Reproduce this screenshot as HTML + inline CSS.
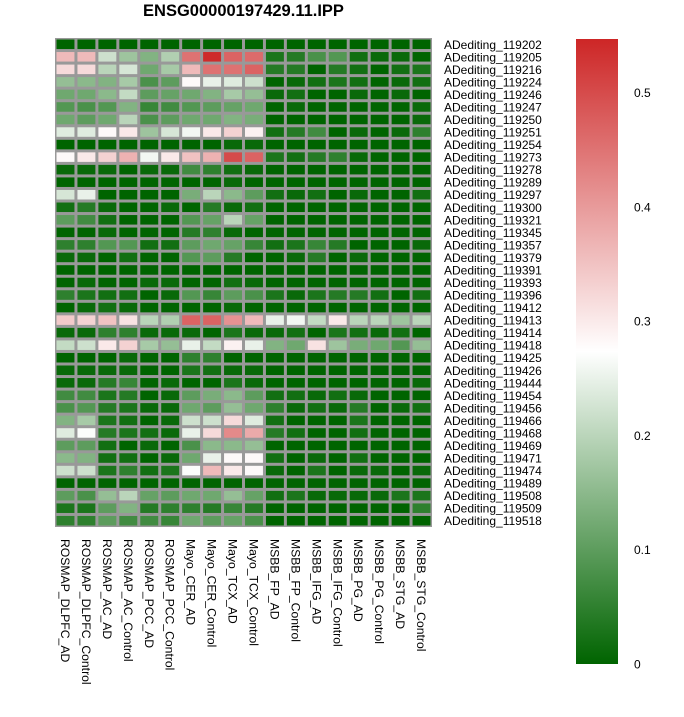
<!DOCTYPE html>
<html><head><meta charset="utf-8"><style>
body{margin:0;background:#fff;}
svg{display:block;font-family:"Liberation Sans",sans-serif;}
</style></head><body>
<svg id="chart" width="684" height="717" viewBox="0 0 684 717">
<defs><linearGradient id="cb" x1="0" y1="1" x2="0" y2="0">
<stop offset="0" stop-color="rgb(0,100,0)"/><stop offset="0.5" stop-color="#fff"/><stop offset="1" stop-color="rgb(205,38,38)"/>
</linearGradient></defs>
<text x="243.5" y="16" text-anchor="middle" font-size="16.5" font-weight="bold">ENSG00000197429.11.IPP</text>
<rect x="55" y="38" width="377" height="489" fill="#999"/>
<g id="cells"></g><g id="rowlabels"></g><g id="collabels"></g>
<rect x="576" y="39" width="42" height="625" fill="url(#cb)"/>
<g id="cbticks"></g>
</svg>
<script>
const rowNames=["119202","119205","119216","119224","119246","119247","119250","119251","119254","119273","119278","119289","119297","119300","119321","119345","119357","119379","119391","119393","119396","119412","119413","119414","119418","119425","119426","119444","119454","119456","119466","119468","119469","119471","119474","119489","119508","119509","119518"];
const colNames=["ROSMAP_DLPFC_AD","ROSMAP_DLPFC_Control","ROSMAP_AC_AD","ROSMAP_AC_Control","ROSMAP_PCC_AD","ROSMAP_PCC_Control","Mayo_CER_AD","Mayo_CER_Control","Mayo_TCX_AD","Mayo_TCX_Control","MSBB_FP_AD","MSBB_FP_Control","MSBB_IFG_AD","MSBB_IFG_Control","MSBB_PG_AD","MSBB_PG_Control","MSBB_STG_AD","MSBB_STG_Control"];
const cbTicks=[0,0.1,0.2,0.3,0.4,0.5];
const values=[
[0,0,0,0,0,0,0,0,0,0,0,0,0,0,0,0,0,0],
[0.36,0.36,0.22,0.17,0.14,0.19,0.45,0.54,0.47,0.46,0.03,0.04,0.08,0.09,0.02,0.01,0.01,0],
[0.32,0.32,0.2,0.23,0.12,0.18,0.36,0.45,0.45,0.47,0.04,0.04,0,0.04,0.02,0,0.02,0.03],
[0.16,0.15,0.14,0.18,0.08,0.1,0.28,0.25,0.24,0.22,0,0.01,0.02,0.03,0.02,0,0.01,0.02],
[0.12,0.12,0.15,0.21,0.1,0.11,0.12,0.14,0.18,0.16,0.01,0.02,0,0,0.01,0,0.01,0],
[0.09,0.08,0.09,0.14,0.06,0.07,0.09,0.1,0.11,0.12,0,0.01,0,0,0,0,0,0.01],
[0.12,0.1,0.12,0.2,0.08,0.1,0.12,0.12,0.14,0.13,0,0,0,0,0,0,0,0.01],
[0.24,0.24,0.28,0.3,0.17,0.23,0.26,0.3,0.33,0.29,0.02,0.04,0.07,0,0.01,0,0.01,0.05],
[0,0,0,0,0,0,0,0,0.01,0.01,0,0,0,0,0,0,0,0],
[0.28,0.3,0.33,0.37,0.26,0.3,0.35,0.37,0.5,0.47,0.03,0.02,0.04,0.05,0.01,0,0,0],
[0.01,0.01,0.01,0,0.01,0.01,0.07,0.05,0.02,0.01,0,0,0,0,0,0,0,0],
[0,0,0,0,0,0,0,0,0.01,0,0,0,0,0,0,0,0,0],
[0.23,0.25,0,0,0,0,0.13,0.2,0.15,0.1,0.02,0.01,0.02,0,0.01,0,0,0.02],
[0.02,0.04,0.01,0,0,0.01,0,0.04,0.01,0.02,0,0,0,0,0,0,0,0],
[0.1,0.07,0.02,0,0,0,0.09,0.11,0.2,0.11,0,0,0,0,0,0,0,0],
[0,0,0.01,0,0,0,0.04,0.05,0.01,0,0,0,0,0,0,0,0,0],
[0.05,0.05,0.09,0.09,0.02,0.02,0.1,0.12,0.11,0.06,0.02,0.03,0.06,0.04,0,0,0,0.01],
[0.01,0.01,0,0.02,0,0,0.09,0.1,0.04,0,0,0.01,0.04,0,0.01,0,0,0],
[0,0,0,0,0,0,0,0,0,0,0,0,0,0,0,0,0,0],
[0,0.01,0,0,0.01,0.01,0,0,0.02,0.01,0,0,0,0,0,0,0,0],
[0.05,0.03,0.02,0.02,0,0.01,0.09,0.06,0.1,0.08,0.03,0.01,0.03,0.04,0.04,0.02,0,0.02],
[0,0.01,0.02,0.01,0,0,0,0,0.01,0,0,0,0,0,0,0,0,0],
[0.34,0.33,0.35,0.31,0.2,0.19,0.47,0.47,0.41,0.36,0.25,0.26,0.21,0.3,0.2,0.2,0.17,0.2],
[0.01,0.01,0.05,0.05,0.01,0.01,0.01,0,0.03,0.01,0.01,0.02,0,0.03,0.02,0.01,0.02,0],
[0.21,0.22,0.3,0.33,0.18,0.16,0.25,0.21,0.29,0.25,0.14,0.12,0.31,0.17,0.13,0.12,0.09,0.16],
[0,0,0,0.01,0,0,0.05,0.05,0,0,0,0,0,0,0,0,0,0],
[0.01,0.01,0.01,0.01,0,0,0.03,0.02,0.01,0.01,0,0,0,0,0,0,0,0],
[0.01,0.01,0.04,0.06,0,0.01,0,0,0.03,0.01,0,0,0,0,0,0,0,0.01],
[0.07,0.07,0.03,0.04,0,0.01,0.1,0.13,0.15,0.1,0.02,0.02,0.01,0.02,0.01,0,0,0],
[0.08,0.09,0.04,0.03,0.01,0.01,0.12,0.1,0.16,0.12,0.05,0.01,0.02,0.01,0.04,0,0.01,0.02],
[0.14,0.18,0.03,0.02,0,0.01,0.22,0.22,0.32,0.24,0.02,0,0,0,0.03,0,0,0],
[0.24,0.27,0.04,0.03,0.02,0.01,0.25,0.32,0.42,0.38,0.04,0.02,0,0,0.02,0,0,0],
[0.1,0.1,0.02,0,0.01,0,0.08,0.15,0.15,0.16,0,0,0,0,0,0,0,0],
[0.15,0.14,0.02,0.02,0,0.01,0.12,0.25,0.28,0.28,0.02,0,0.01,0,0.02,0,0,0],
[0.22,0.22,0.03,0.05,0.02,0.03,0.27,0.36,0.3,0.28,0.01,0,0.03,0,0.01,0.01,0,0.01],
[0,0,0,0,0,0,0,0,0,0,0,0,0,0,0,0,0,0],
[0.1,0.08,0.16,0.2,0.11,0.1,0.12,0.12,0.16,0.11,0.02,0.03,0.01,0.01,0.01,0.01,0.03,0.03],
[0.03,0.03,0.1,0.14,0.04,0.05,0.05,0.04,0.06,0.04,0,0,0,0,0,0,0,0.05],
[0.05,0.05,0.1,0.07,0.07,0.06,0.12,0.1,0.11,0.08,0,0,0,0,0,0,0,0]
];
const NS="http://www.w3.org/2000/svg";
const vmax=0.547, vmid=vmax/2;
const X0=55,Y0=38,W=377,H=489;
const cw=W/colNames.length, rh=H/rowNames.length;
const xPos=i=>X0+i*cw, yPos=j=>Y0+j*rh;
const cbY=v=>664-v/vmax*625;
function color(v){
  let r,g,b;
  if(v<=vmid){const t=v/vmid;r=0+255*t;g=100+155*t;b=0+255*t;}
  else{const t=Math.min(1,(v-vmid)/(vmax-vmid));r=255-50*t;g=255-217*t;b=255-217*t;}
  return `rgb(${r|0},${g|0},${b|0})`;
}
const cells=document.getElementById('cells');
values.forEach((row,j)=>row.forEach((v,i)=>{
  const r=document.createElementNS(NS,'rect');
  
  
  r.setAttribute('x',xPos(i)+1.5);r.setAttribute('y',yPos(j)+1.5);
  r.setAttribute('width',cw-3);r.setAttribute('height',rh-3);
  r.setAttribute('fill',color(v));cells.appendChild(r);
}));
const rl=document.getElementById('rowlabels');
rowNames.forEach((n,j)=>{
  const t=document.createElementNS(NS,'text');
  
  
  t.setAttribute('x',444);t.setAttribute('y',yPos(j)+rh/2+4.5);
  t.setAttribute('font-size','12');t.textContent='ADediting_'+n;rl.appendChild(t);
});
const cl=document.getElementById('collabels');
colNames.forEach((n,i)=>{
  const t=document.createElementNS(NS,'text');
  
  
  const x=xPos(i)+cw/2-4.5,y=539;
  t.setAttribute('x',x);t.setAttribute('y',y);
  t.setAttribute('transform',`rotate(90 ${x} ${y})`);
  t.setAttribute('font-size','12.2');t.textContent=n;cl.appendChild(t);
});
const cb=document.getElementById('cbticks');
cbTicks.forEach(v=>{
  const t=document.createElementNS(NS,'text');
  
  
  t.setAttribute('x',634);t.setAttribute('y',cbY(v)+4.5);
  t.setAttribute('font-size','12');t.textContent=String(v);cb.appendChild(t);
});
</script>
</body></html>
